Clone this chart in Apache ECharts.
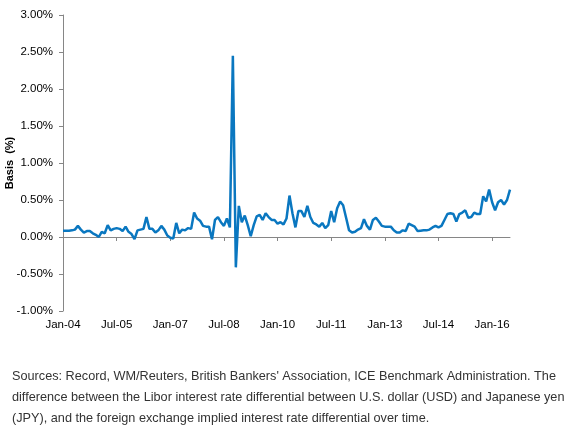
<!DOCTYPE html>
<html>
<head>
<meta charset="utf-8">
<script src="https://cdn.jsdelivr.net/npm/echarts@6/dist/echarts.min.js"></script>
<style>
  html, body { margin: 0; padding: 0; background: #fff; }
  #chart { width: 577px; height: 437px; }
</style>
</head>
<body>
<div id="chart"></div>
<script>
// monthly basis, Jan-04 .. Jul-16 (in %)
const startYear = 2004;
const basis = [
  0.085, 0.085, 0.085, 0.09, 0.10, 0.15, 0.10, 0.06, 0.08, 0.08,
  0.05, 0.03, 0.00, 0.07, 0.05, 0.16, 0.09, 0.11, 0.12, 0.11,
  0.08, 0.14, 0.07, 0.04, -0.03, 0.09, 0.10, 0.11, 0.27, 0.11,
  0.11, 0.06, 0.09, 0.15, 0.10, 0.02, -0.01, -0.02, 0.19, 0.05,
  0.10, 0.09, 0.12, 0.11, 0.33, 0.25, 0.22, 0.15, 0.14, 0.14,
  -0.03, 0.23, 0.27, 0.20, 0.15, 0.25, 0.13, 2.45, -0.41, 0.42,
  0.20, 0.29, 0.16, 0.01, 0.16, 0.28, 0.30, 0.23, 0.32, 0.27,
  0.23, 0.23, 0.18, 0.20, 0.17, 0.25, 0.56, 0.32, 0.13, 0.35,
  0.35, 0.27, 0.42, 0.27, 0.19, 0.17, 0.14, 0.19, 0.12, 0.16,
  0.35, 0.20, 0.39, 0.48, 0.43, 0.26, 0.09, 0.06, 0.07, 0.10,
  0.12, 0.24, 0.15, 0.10, 0.23, 0.26, 0.21, 0.15, 0.14, 0.14,
  0.14, 0.09, 0.06, 0.06, 0.09, 0.08, 0.18, 0.16, 0.14, 0.08,
  0.085, 0.09, 0.09, 0.10, 0.13, 0.15, 0.13, 0.15, 0.23, 0.31,
  0.32, 0.31, 0.21, 0.31, 0.33, 0.36, 0.26, 0.27, 0.33, 0.31,
  0.31, 0.55, 0.48, 0.64, 0.47, 0.36, 0.47, 0.50, 0.44, 0.50,
  0.64
];
const monthNames = ['Jan', 'Feb', 'Mar', 'Apr', 'May', 'Jun', 'Jul', 'Aug', 'Sep', 'Oct', 'Nov', 'Dec'];
const months = basis.map((v, i) => monthNames[i % 12] + '-' + String((startYear + Math.floor(i / 12)) % 100).padStart(2, '0'));

const sourceLines = [
  "Sources: Record, WM/Reuters, British Bankers' Association, ICE Benchmark Administration. The",
  "difference between the Libor interest rate differential between U.S. dollar (USD) and Japanese yen",
  "(JPY), and the foreign exchange implied interest rate differential over time."
];

const axisGray = '#868686';
const font = 'Liberation Sans, Arial, sans-serif';

const chart = echarts.init(document.getElementById('chart'));
chart.setOption({
  animation: false,
  grid: { left: 63, top: 15, right: 67, bottom: 126, containLabel: false, outerBoundsMode: 'none' },
  xAxis: [
    {
      type: 'category',
      data: months,
      boundaryGap: false,
      axisLine: { onZero: true, lineStyle: { color: axisGray, width: 1 } },
      axisTick: { show: true, interval: 17, length: 4, lineStyle: { color: axisGray } },
      axisLabel: { show: false },
      splitLine: { show: false }
    },
    {
      type: 'category',
      data: months,
      boundaryGap: false,
      position: 'bottom',
      axisLine: { show: false, onZero: false },
      axisTick: { show: false },
      axisLabel: { interval: 17, margin: 8, color: '#000', fontSize: 11.5, fontFamily: font },
      splitLine: { show: false }
    }
  ],
  yAxis: {
    type: 'value',
    min: -1,
    max: 3,
    interval: 0.5,
    name: 'Basis  (%)',
    nameLocation: 'middle',
    nameRotate: 90,
    nameGap: 48,
    nameMoveOverlap: false,
    nameTextStyle: { fontWeight: 'bold', fontSize: 11, color: '#000', fontFamily: font },
    axisLine: { show: true, lineStyle: { color: axisGray } },
    axisTick: { show: true, length: 4, lineStyle: { color: axisGray } },
    axisLabel: { color: '#000', fontSize: 11.5, fontFamily: font, margin: 10,
      formatter: v => v.toFixed(2) + '%' },
    splitLine: { show: false }
  },
  series: [{
    type: 'line',
    xAxisIndex: 0,
    data: basis,
    symbol: 'none',
    lineStyle: { color: '#0A77C0', width: 2.5 },
    z: 3
  }],
  graphic: sourceLines.map((t, i) => ({
    type: 'text',
    left: 12,
    top: 370 + i * 21,
    style: { text: t, fill: '#333', fontSize: 12.7, fontFamily: font }
  }))
});
</script>
</body>
</html>
